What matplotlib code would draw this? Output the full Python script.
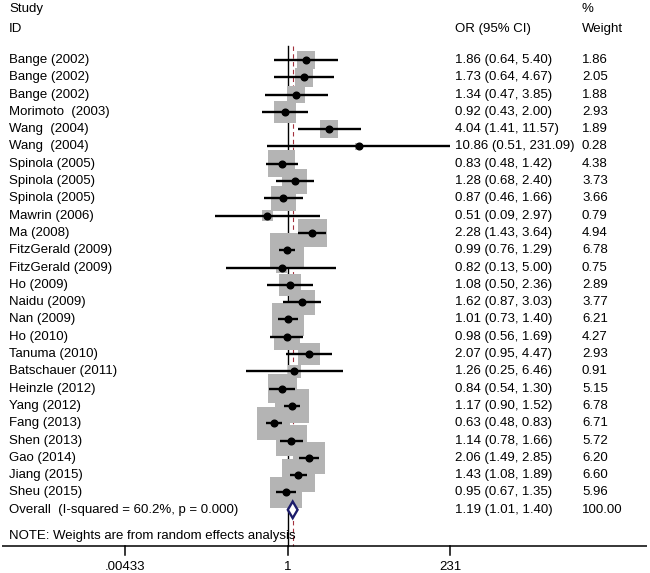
import numpy as np
import matplotlib
matplotlib.use("Agg")
import matplotlib.pyplot as plt
import matplotlib.transforms as mtransforms

plt.rcParams['font.family'] = ['Liberation Sans', 'DejaVu Sans']

# Data
studies = ["Bange (2002)", "Bange (2002)", "Bange (2002)", "Morimoto  (2003)",
           "Wang  (2004)", "Wang  (2004)", "Spinola (2005)", "Spinola (2005)",
           "Spinola (2005)", "Mawrin (2006)", "Ma (2008)", "FitzGerald (2009)",
           "FitzGerald (2009)", "Ho (2009)", "Naidu (2009)", "Nan (2009)",
           "Ho (2010)", "Tanuma (2010)", "Batschauer (2011)", "Heinzle (2012)",
           "Yang (2012)", "Fang (2013)", "Shen (2013)", "Gao (2014)",
           "Jiang (2015)", "Sheu (2015)"]
odds = [1.86, 1.73, 1.34, 0.92, 4.04, 10.86, 0.83, 1.28, 0.87, 0.51, 2.28, 0.99,
        0.82, 1.08, 1.62, 1.01, 0.98, 2.07, 1.26, 0.84, 1.17, 0.63, 1.14, 2.06,
        1.43, 0.95]
ci_low = [0.64, 0.64, 0.47, 0.43, 1.41, 0.51, 0.48, 0.68, 0.46, 0.09, 1.43, 0.76,
          0.13, 0.50, 0.87, 0.73, 0.56, 0.95, 0.25, 0.54, 0.90, 0.48, 0.78, 1.49,
          1.08, 0.67]
ci_high = [5.40, 4.67, 3.85, 2.00, 11.57, 231.09, 1.42, 2.40, 1.66, 2.97, 3.64, 1.29,
           5.00, 2.36, 3.03, 1.40, 1.69, 4.47, 6.46, 1.30, 1.52, 0.83, 1.66, 2.85,
           1.89, 1.35]
weights = [1.86, 2.05, 1.88, 2.93, 1.89, 0.28, 4.38, 3.73, 3.66, 0.79, 4.94, 6.78,
           0.75, 2.89, 3.77, 6.21, 4.27, 2.93, 0.91, 5.15, 6.78, 6.71, 5.72, 6.20,
           6.60, 5.96]

overall_label = "Overall  (I-squared = 60.2%, p = 0.000)"
overall_or = 1.19
overall_low = 1.01
overall_high = 1.40
overall_weight = 100.00

tick_values = [1 / 231, 1, 231]
tick_labels = [".00433", "1", "231"]

# Layout (pixels of a 650x573 image)
W, H = 650, 573
ROW0, ROWH = 60, 17.3
X1, XSPAN = 287.5, 162.8          # pixel of OR=1, pixels from 1 to 231


def yrow(px):
    return (px - ROW0) / ROWH


def xfrac(px):
    return px / W


fig = plt.figure(figsize=(W / 100, H / 100), dpi=100)
ax = fig.add_axes([0, 0, 1, 1])
ax.set_xscale('log')
lnmax = np.log(231)
ax.set_xlim(np.exp(-lnmax * X1 / XSPAN), np.exp(lnmax * (W - X1) / XSPAN))
ax.set_ylim(yrow(H), yrow(0))
ax.axis('off')

trans = mtransforms.blended_transform_factory(ax.transAxes, ax.transData)
fs = 9.5

rows = np.arange(len(studies))
overall_row = len(studies)

# reference lines
ax.plot([1, 1], [yrow(46), yrow(546)], color='black', lw=1.0, zorder=1)
ax.plot([overall_or, overall_or], [yrow(46), yrow(546)], color='#a3303c', lw=0.8,
        dashes=(4, 3), zorder=1)

# weight boxes
sizes = [87 * w for w in weights]
ax.scatter(odds, rows, s=sizes, marker='s', color='#b4b4b4', linewidths=0, zorder=2)

# CIs and point estimates
for r, o, lo, hi in zip(rows, odds, ci_low, ci_high):
    ax.plot([lo, hi], [r, r], color='black', lw=1.7, solid_capstyle='butt', zorder=3)
ax.plot(odds, rows, 'o', color='black', ms=4.8, zorder=4)

# overall diamond
h = 0.48
ax.fill([overall_low, overall_or, overall_high, overall_or],
        [overall_row, overall_row - h, overall_row, overall_row + h],
        facecolor='white', edgecolor='#1c1c6b', lw=1.7, zorder=5)

# text columns
ax.text(xfrac(9), yrow(9), "Study", transform=trans, fontsize=fs, va='center')
ax.text(xfrac(9), yrow(29), "ID", transform=trans, fontsize=fs, va='center')
ax.text(xfrac(455), yrow(29), "OR (95% CI)", transform=trans, fontsize=fs, va='center')
ax.text(xfrac(582), yrow(9), "%", transform=trans, fontsize=fs, va='center')
ax.text(xfrac(582), yrow(29), "Weight", transform=trans, fontsize=fs, va='center')

for r, name, o, lo, hi, w in zip(rows, studies, odds, ci_low, ci_high, weights):
    ax.text(xfrac(9), r, name, transform=trans, fontsize=fs, va='center')
    ax.text(xfrac(455), r, f"{o:.2f} ({lo:.2f}, {hi:.2f})", transform=trans,
            fontsize=fs, va='center')
    ax.text(xfrac(582), r, f"{w:.2f}", transform=trans, fontsize=fs, va='center')

ax.text(xfrac(9), overall_row, overall_label, transform=trans, fontsize=fs, va='center')
ax.text(xfrac(455), overall_row,
        f"{overall_or:.2f} ({overall_low:.2f}, {overall_high:.2f})",
        transform=trans, fontsize=fs, va='center')
ax.text(xfrac(582), overall_row, f"{overall_weight:.2f}", transform=trans,
        fontsize=fs, va='center')

ax.text(xfrac(9), yrow(536), "NOTE: Weights are from random effects analysis",
        transform=trans, fontsize=fs, va='center')

# x axis
ax.plot([xfrac(2), xfrac(647)], [yrow(546), yrow(546)], transform=trans,
        color='black', lw=1.1, solid_capstyle='butt')
for v, lab in zip(tick_values, tick_labels):
    ax.plot([v, v], [yrow(546), yrow(555)], color='black', lw=1.1)
    ax.text(v, yrow(567), lab, fontsize=fs, ha='center', va='center')

fig.savefig("out.png", dpi=100)
